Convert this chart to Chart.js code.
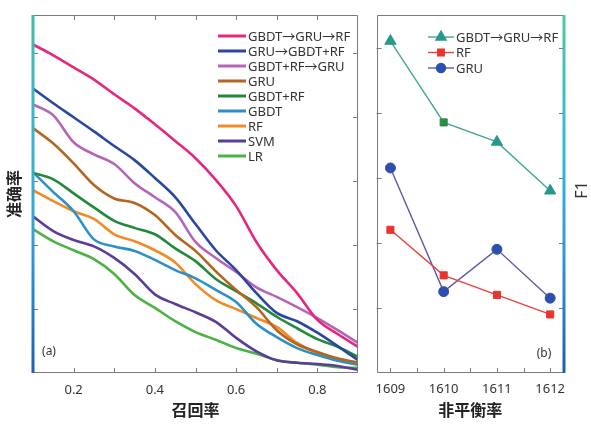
<!DOCTYPE html>
<html>
<head>
<meta charset="utf-8">
<script src="https://cdn.jsdelivr.net/npm/chart.js@4.4.1/dist/chart.umd.min.js"></script>
<style>
  body { margin: 0; background: #fff; }
  #wrap { position: relative; width: 591px; height: 425px; }
  #c1 { position: absolute; left: 0; top: 0; }
  #c2 { position: absolute; left: 367px; top: 0; }
</style>
</head>
<body>
<div id="wrap">
  <canvas id="c1" width="367" height="425"></canvas>
  <canvas id="c2" width="224" height="425"></canvas>
</div>
<script>
// (a) precision vs recall
const recall = [0.10, 0.15, 0.20, 0.25, 0.30, 0.35, 0.40, 0.45, 0.50, 0.55, 0.60, 0.65, 0.70, 0.75, 0.80, 0.85, 0.90];
const pGbdtGruRf = [0.914, 0.897, 0.878, 0.859, 0.836, 0.814, 0.789, 0.763, 0.736, 0.702, 0.661, 0.605, 0.561, 0.525, 0.483, 0.461, 0.441];
const pGruGbdtRf = [0.845, 0.822, 0.800, 0.778, 0.755, 0.733, 0.705, 0.675, 0.633, 0.592, 0.561, 0.525, 0.494, 0.481, 0.463, 0.442, 0.420];
const pGbdtRfGru = [0.820, 0.803, 0.761, 0.742, 0.727, 0.697, 0.675, 0.652, 0.605, 0.580, 0.558, 0.534, 0.519, 0.503, 0.486, 0.467, 0.447];
const pGru       = [0.783, 0.759, 0.728, 0.694, 0.673, 0.666, 0.647, 0.616, 0.591, 0.559, 0.530, 0.503, 0.467, 0.445, 0.433, 0.423, 0.416];
const pGbdtRf    = [0.713, 0.703, 0.681, 0.659, 0.638, 0.627, 0.617, 0.595, 0.575, 0.547, 0.528, 0.509, 0.488, 0.470, 0.453, 0.441, 0.425];
const pGbdt      = [0.714, 0.683, 0.653, 0.609, 0.598, 0.591, 0.577, 0.561, 0.548, 0.530, 0.511, 0.477, 0.456, 0.439, 0.428, 0.419, 0.413];
const pRf        = [0.686, 0.669, 0.653, 0.641, 0.617, 0.606, 0.592, 0.573, 0.539, 0.514, 0.500, 0.486, 0.472, 0.447, 0.431, 0.422, 0.416];
const pSvm       = [0.645, 0.622, 0.608, 0.598, 0.580, 0.555, 0.523, 0.508, 0.495, 0.480, 0.455, 0.434, 0.420, 0.416, 0.414, 0.411, 0.405];
const pLr        = [0.625, 0.606, 0.592, 0.578, 0.555, 0.522, 0.502, 0.481, 0.464, 0.452, 0.439, 0.430, 0.420, 0.416, 0.413, 0.409, 0.408];
const recallTickLabels = ['0.2', '0.4', '0.6', '0.8'];

// (b) F1 vs imbalance
const imbalance = [1609, 1610, 1611, 1612];
const imbalanceTicks = [1609, 1609.5, 1610, 1610.5, 1611, 1611.5, 1612];
const f1GbdtGruRf = [0.902, 0.877, 0.871, 0.856];
const f1Rf        = [0.844, 0.830, 0.824, 0.818];
const f1Gru       = [0.863, 0.825, 0.838, 0.823];

const FONT = "'Noto Sans', 'Noto Sans CJK SC', sans-serif";
const CJK = "'Noto Sans CJK SC', sans-serif";
Chart.defaults.font.family = FONT;
Chart.defaults.color = '#333';

const pts = (xs, ys) => xs.map((x, i) => ({ x, y: ys[i] }));

// inward tick marks + frame + gradient bar
const frame = {
  id: 'frame',
  afterDatasetsDraw(chart, args, o) {
    const { ctx, chartArea: a, scales: { x, y } } = chart;
    ctx.save();
    ctx.strokeStyle = '#7a7a7a';
    ctx.lineWidth = 1;
    const L = 5;
    const inside = (s, v, step) => v > s.min + 1e-6 && v < s.max - 1e-6 &&
      Math.abs(v / step - Math.round(v / step)) < 1e-6;
    ctx.beginPath();
    x.ticks.forEach(t => {
      if (!inside(x, t.value, o.xStep)) return;
      const px = Math.round(x.getPixelForValue(t.value)) + 0.5;
      ctx.moveTo(px, a.bottom); ctx.lineTo(px, a.bottom - L);
      if (o.topTicks) { ctx.moveTo(px, a.top); ctx.lineTo(px, a.top + L); }
    });
    y.ticks.forEach(t => {
      if (!inside(y, t.value, o.yStep)) return;
      const py = Math.round(y.getPixelForValue(t.value)) + 0.5;
      ctx.moveTo(a.left, py); ctx.lineTo(a.left + L, py);
      ctx.moveTo(a.right, py); ctx.lineTo(a.right - L, py);
    });
    const l = Math.round(a.left) + 0.5, r = Math.round(a.right) - 0.5;
    const tp = Math.round(a.top) + 0.5, b = Math.round(a.bottom) - 0.5;
    ctx.moveTo(l, tp); ctx.lineTo(r, tp);
    ctx.moveTo(l, b); ctx.lineTo(r, b);
    if (o.bar === 'left') { ctx.moveTo(r, tp); ctx.lineTo(r, b); }
    else { ctx.moveTo(l, tp); ctx.lineTo(l, b); }
    ctx.stroke();
    // gradient bar
    const g = ctx.createLinearGradient(0, a.top, 0, a.bottom);
    o.stops.forEach(([s, c]) => g.addColorStop(s, c));
    ctx.fillStyle = g;
    const bx = o.bar === 'left' ? a.left - 1.5 : a.right - 1.5;
    ctx.fillRect(bx, a.top, 3, a.bottom - a.top);
    // panel tag
    ctx.fillStyle = '#333';
    ctx.font = '12px ' + FONT;
    ctx.textAlign = 'center';
    ctx.textBaseline = 'middle';
    ctx.fillText(o.tag[0], o.tag[1], o.tag[2]);
    // rotated side title (reads bottom to top)
    if (o.sideTitle) {
      ctx.save();
      ctx.translate(o.sideTitle[1], o.sideTitle[2]);
      ctx.rotate(-Math.PI / 2);
      ctx.font = '16px ' + FONT;
      ctx.fillText(o.sideTitle[0], 0, 0);
      ctx.restore();
    }
    ctx.restore();
  }
};

// legend drawn inside the plot
const innerLegend = {
  id: 'innerLegend',
  afterDraw(chart, args, o) {
    const { ctx } = chart;
    ctx.save();
    ctx.font = o.font;
    ctx.textBaseline = 'middle';
    ctx.textAlign = 'left';
    chart.data.datasets.forEach((ds, i) => {
      const y = o.y + i * o.gap;
      ctx.strokeStyle = ds.borderColor;
      ctx.lineWidth = o.lineWidth;
      ctx.beginPath();
      ctx.moveTo(o.x, y); ctx.lineTo(o.x + o.len, y);
      ctx.stroke();
      if (o.markers) {
        const st = Array.isArray(ds.pointStyle) ? ds.pointStyle[0] : ds.pointStyle;
        const bg = Array.isArray(ds.pointBackgroundColor) ? ds.pointBackgroundColor[0] : ds.pointBackgroundColor;
        const rad = Array.isArray(ds.pointRadius) ? ds.pointRadius[0] : ds.pointRadius;
        ctx.fillStyle = bg;
        ctx.strokeStyle = bg;
        Chart.helpers.drawPoint(ctx, { pointStyle: st, radius: rad * 0.9, borderWidth: 1, rotation: 0 }, o.x + o.len / 2, y);
      }
      ctx.fillStyle = '#333';
      ctx.fillText(ds.label, o.x + o.len + 2, y + 1);
    });
    ctx.restore();
  }
};

const leftColors = ['#e5277d', '#2947a0', '#b565b5', '#b4651f', '#22883a', '#2b8fc8', '#f28a25', '#5b3c98', '#4bb243'];
const leftLabels = ['GBDT→GRU→RF', 'GRU→GBDT+RF', 'GBDT+RF→GRU', 'GRU', 'GBDT+RF', 'GBDT', 'RF', 'SVM', 'LR'];
const leftSeries = [pGbdtGruRf, pGruGbdtRf, pGbdtRfGru, pGru, pGbdtRf, pGbdt, pRf, pSvm, pLr];

new Chart(document.getElementById('c1'), {
  type: 'line',
  data: {
    datasets: leftSeries.map((s, i) => ({
      label: leftLabels[i],
      data: pts(recall, s),
      borderColor: leftColors[i],
      borderWidth: 2.6,
      pointRadius: 0,
      cubicInterpolationMode: 'monotone'
    }))
  },
  options: {
    responsive: false,
    animation: false,
    layout: { padding: { top: 15, right: 6, left: 0, bottom: 0 } },
    plugins: {
      legend: { display: false },
      tooltip: { enabled: false },
      frame: {
        topTicks: true, xStep: 0.1, yStep: 0.1, bar: 'left',
        stops: [[0, '#42bca6'], [0.35, '#3ab3cf'], [0.6, '#34a2dc'], [1, '#1d60b2']],
        tag: ['(a)', 49, 352]
      },
      innerLegend: { x: 218, y: 36, gap: 15, len: 28, lineWidth: 3, font: '13px ' + FONT, markers: false }
    },
    scales: {
      x: {
        type: 'linear', min: 0.1, max: 0.9,
        grid: { display: false, drawTicks: false }, border: { display: false },
        ticks: {
          stepSize: 0.1, autoSkip: false, maxRotation: 0, padding: 9,
          font: { size: 13 },
          callback: v => { const s = v.toFixed(1); return recallTickLabels.includes(s) && Math.abs(v * 10 - Math.round(v * 10)) < 1e-6 ? s : ''; }
        },
        title: { display: true, text: '召回率', font: { size: 16, weight: 'bold', family: CJK }, color: '#222', padding: { top: 0, bottom: 5 } },
        afterFit: s => { s.height = 52; }
      },
      y: {
        min: 0.4, max: 0.96,
        grid: { display: false, drawTicks: false }, border: { display: false },
        ticks: { stepSize: 0.1, callback: () => '' },
        title: { display: true, text: '准确率', font: { size: 16, weight: 'bold', family: CJK }, color: '#222', padding: { top: 4, bottom: 0 } },
        afterFit: s => { s.width = 33; }
      }
    }
  },
  plugins: [frame, innerLegend]
});

new Chart(document.getElementById('c2'), {
  type: 'line',
  data: {
    datasets: [
      {
        label: 'GBDT→GRU→RF', data: pts(imbalance, f1GbdtGruRf),
        borderColor: '#45a596', borderWidth: 1.4,
        pointStyle: ['triangle', 'rect', 'triangle', 'triangle'],
        pointRadius: [6.5, 5, 6.5, 6.5],
        pointBackgroundColor: ['#27998a', '#2c8a45', '#27998a', '#27998a'],
        pointBorderColor: ['#27998a', '#2c8a45', '#27998a', '#27998a'],
        pointBorderWidth: 1
      },
      {
        label: 'RF', data: pts(imbalance, f1Rf),
        borderColor: '#e8433b', borderWidth: 1.4,
        pointStyle: 'rect', pointRadius: 5,
        pointBackgroundColor: '#e8332e', pointBorderColor: '#e8332e', pointBorderWidth: 1
      },
      {
        label: 'GRU', data: pts(imbalance, f1Gru),
        borderColor: '#5a5aa8', borderWidth: 1.4,
        pointStyle: 'circle', pointRadius: 5,
        pointBackgroundColor: '#2d4fae', pointBorderColor: '#2d4fae', pointBorderWidth: 1
      }
    ]
  },
  options: {
    responsive: false,
    animation: false,
    layout: { padding: { top: 15, right: 27, left: 0, bottom: 0 } },
    plugins: {
      legend: { display: false },
      tooltip: { enabled: false },
      frame: {
        topTicks: false, xStep: 0.5, yStep: 0.02, bar: 'right',
        stops: [[0, '#4cc8a4'], [0.4, '#3ab6d4'], [0.7, '#2e94d6'], [1, '#1e5db0']],
        tag: ['(b)', 177, 354],
        sideTitle: ['F1', 215, 190]
      },
      innerLegend: { x: 61, y: 37, gap: 15.5, len: 26, lineWidth: 1.4, font: '13px ' + FONT, markers: true }
    },
    scales: {
      x: {
        type: 'linear', min: 1608.74, max: 1612.26,
        grid: { display: false, drawTicks: false }, border: { display: false },
        afterBuildTicks: s => { s.ticks = imbalanceTicks.map(v => ({ value: v })); },
        ticks: {
          autoSkip: false, maxRotation: 0, padding: 8,
          font: { size: 13 },
          callback: v => Math.abs(v - Math.round(v)) < 1e-6 ? String(Math.round(v)) : ''
        },
        title: { display: true, text: '非平衡率', font: { size: 16, weight: 'bold', family: CJK }, color: '#222', padding: { top: 0, bottom: 5 } },
        afterFit: s => { s.height = 52; }
      },
      y: {
        min: 0.80, max: 0.91,
        grid: { display: false, drawTicks: false }, border: { display: false },
        ticks: { stepSize: 0.02, callback: () => '' },
        afterFit: s => { s.width = 6; }
      }
    }
  },
  plugins: [frame, innerLegend]
});
</script>
</body>
</html>
